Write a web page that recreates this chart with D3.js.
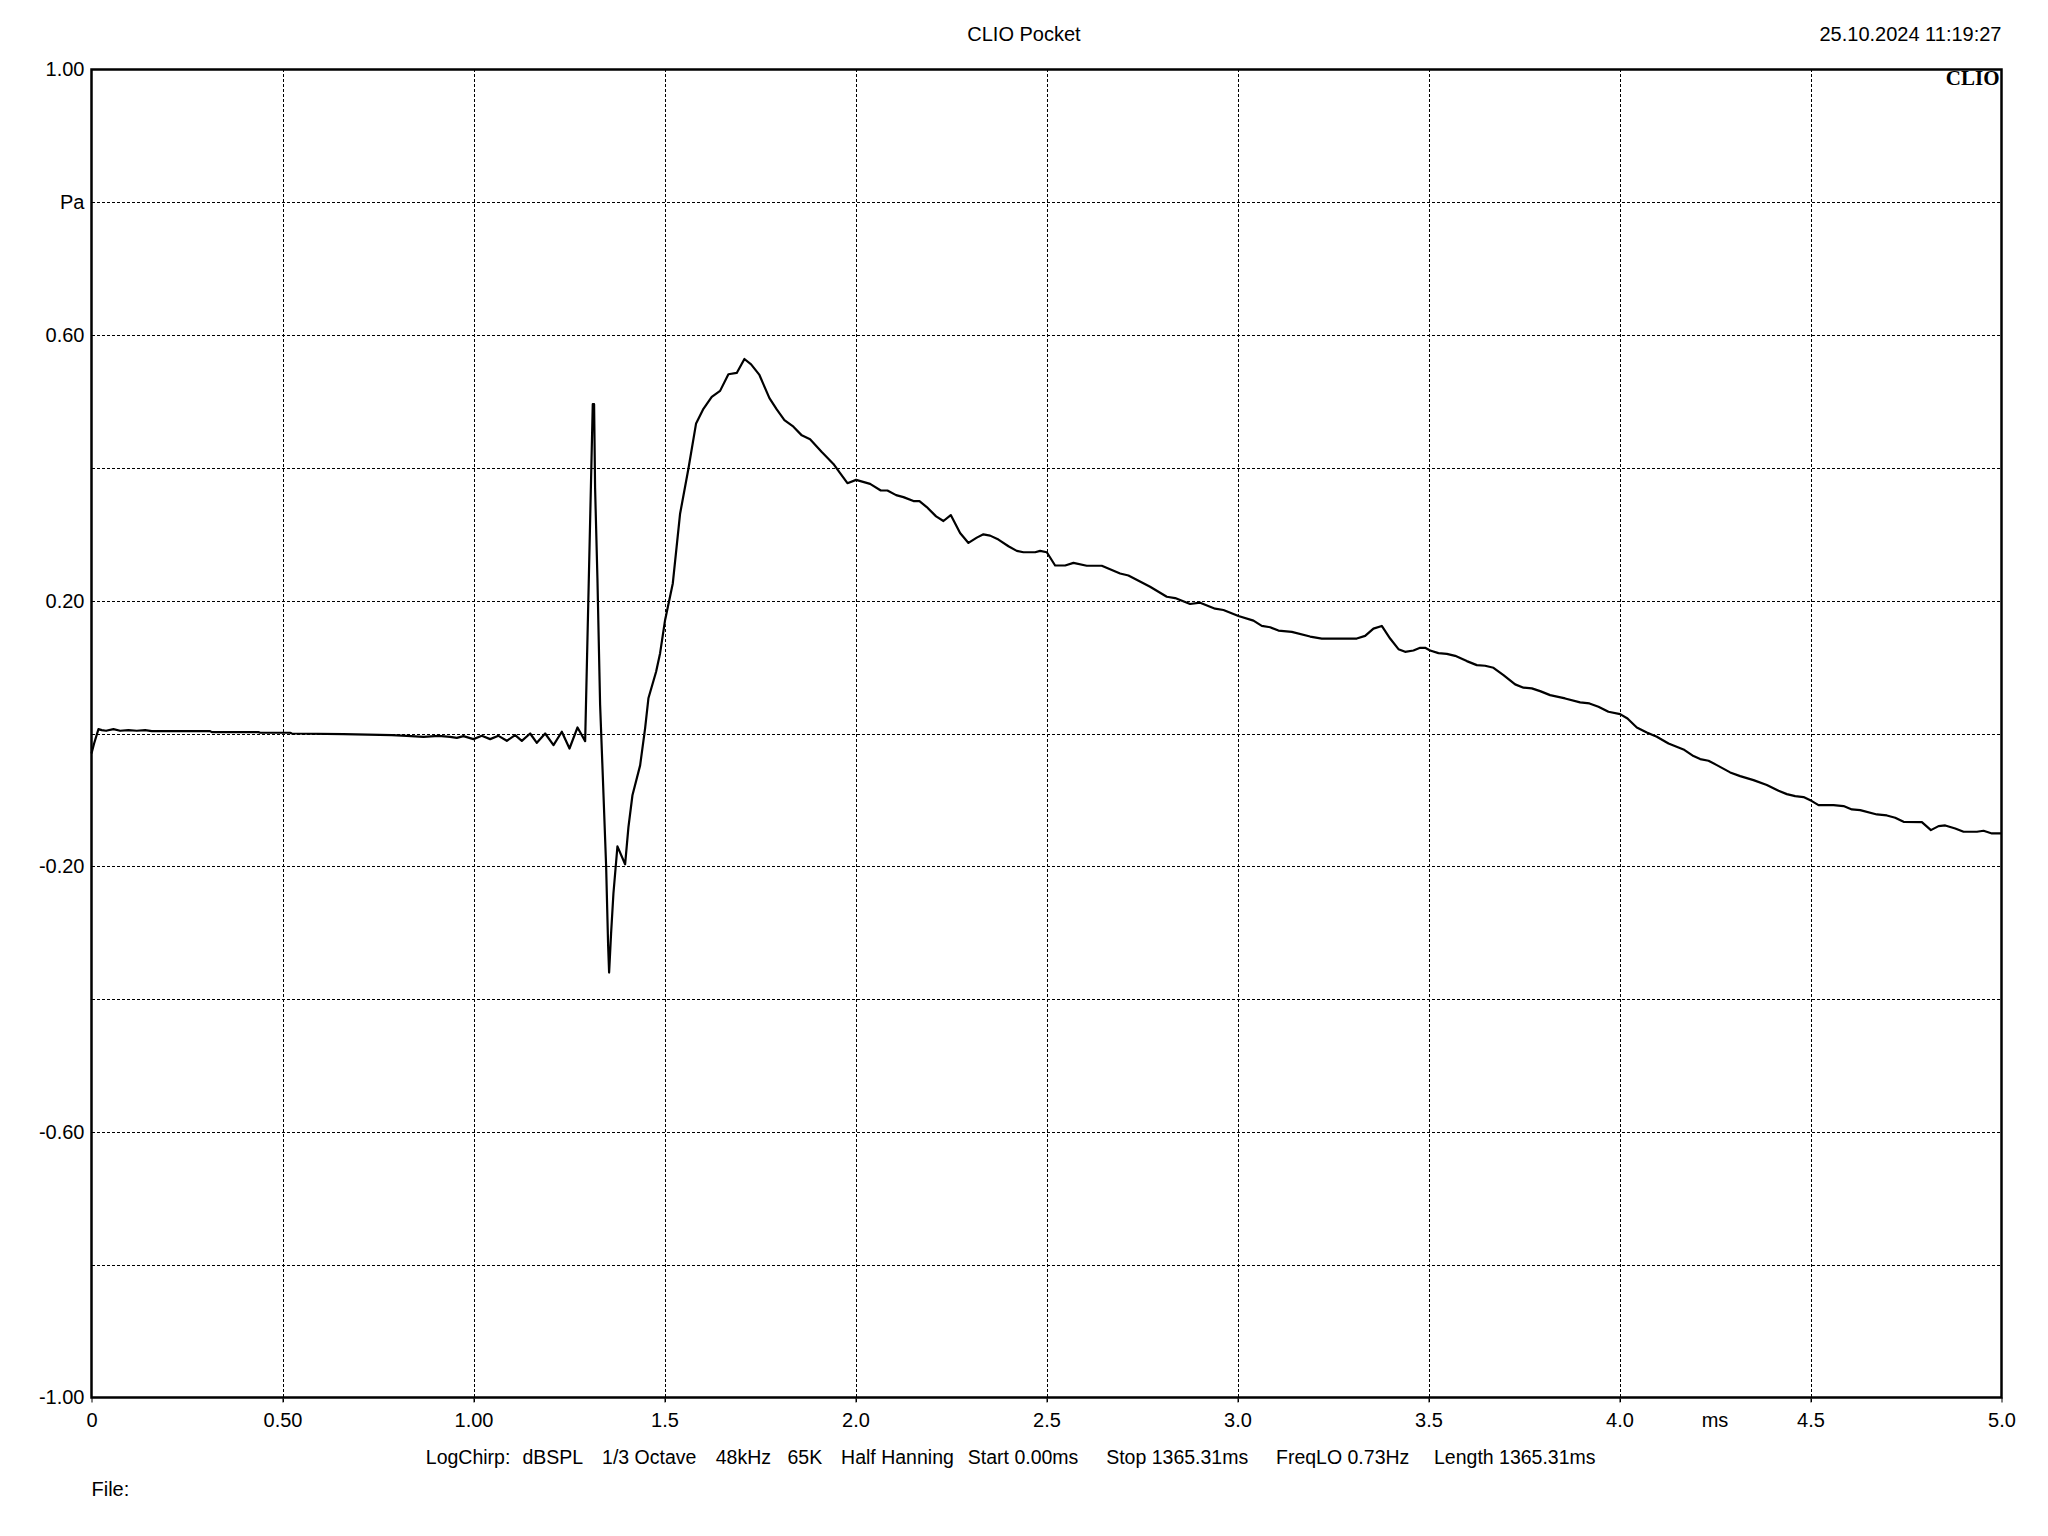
<!DOCTYPE html>
<html>
<head>
<meta charset="utf-8">
<script src="https://cdn.jsdelivr.net/npm/d3@7/dist/d3.min.js"></script>
<style>
  html, body { margin: 0; padding: 0; background: #fff; }
  svg { display: block; }
  text { font-family: "Liberation Sans", Arial, sans-serif; fill: #000; }
</style>
</head>
<body>
<svg id="chart" width="2048" height="1536"></svg>
<script>
// ---------- data ----------
const timeMs = [
  0, 0.0068, 0.0182, 0.0269, 0.0382, 0.0574, 0.0749, 0.0967, 0.1186, 0.1404, 0.1578,
  0.3105, 0.3149, 0.4370, 0.4414, 0.5200, 0.5244, 0.6596, 0.7862, 0.8255, 0.8691,
  0.9084, 0.9389, 0.9564, 0.9738, 0.9999, 1.0217, 1.0436, 1.0654, 1.0872, 1.1090,
  1.1265, 1.1483, 1.1658, 1.1876, 1.2094, 1.2312, 1.2513, 1.2723, 1.2923,
  1.3122, 1.3157, 1.3183, 1.3244, 1.3314, 1.3384, 1.3472, 1.3524, 1.3550, 1.3602,
  1.3663, 1.3768, 1.3969, 1.4056, 1.4161, 1.4362, 1.4493, 1.4579, 1.4780, 1.4885,
  1.5016, 1.5217, 1.5408, 1.5627, 1.5827, 1.6019, 1.6237, 1.6455, 1.6673, 1.6891,
  1.7092, 1.7267, 1.7485, 1.7747, 1.7938, 1.8139, 1.8375, 1.8593, 1.8811, 1.9117,
  1.9422, 1.9597, 1.9789, 2.0016, 2.0382, 2.0662, 2.0836, 2.1063, 2.1255, 2.1517,
  2.1674, 2.1866, 2.2110, 2.2302, 2.2494, 2.2738, 2.2957, 2.3175, 2.3349, 2.3524,
  2.3742, 2.4004, 2.4222, 2.4397, 2.4702, 2.4833, 2.5008, 2.5226, 2.5488, 2.5706,
  2.6054, 2.6447, 2.6927, 2.7145, 2.7712, 2.8149, 2.8367, 2.8759, 2.9021, 2.9414,
  2.9632, 3.0025, 3.0418, 3.0636, 3.0854, 3.1072, 3.1421, 3.1901, 3.2207, 3.3123,
  3.3341, 3.3559, 3.3777, 3.3995, 3.4214, 3.4388, 3.4606, 3.4781, 3.4912, 3.5043,
  3.5261, 3.5479, 3.5698, 3.6003, 3.6265, 3.6483, 3.6701, 3.6963, 3.7268, 3.7487,
  3.7705, 3.7922, 3.8183, 3.8576, 3.8969, 3.9213, 3.9449, 3.9711, 4.0016, 4.0209,
  4.0453, 4.0715, 4.0977, 4.1283, 4.1675, 4.1937, 4.2112, 4.2330, 4.2548, 4.2897,
  4.3159, 4.3508, 4.3857, 4.4163, 4.4381, 4.4599, 4.4817, 4.5036, 4.5210, 4.5603,
  4.5865, 4.6083, 4.6301, 4.6738, 4.6999, 4.7217, 4.7436, 4.7916, 4.8152, 4.8352,
  4.8527, 4.8789, 4.9007, 4.9356, 4.9530, 4.9749, 5.0
];
const pressurePa = [
  -0.030, -0.015, 0.0066, 0.0051, 0.0041, 0.0066, 0.0041, 0.0051, 0.0041, 0.0051, 0.0036,
  0.0036, 0.0021, 0.0021, 0.0011, 0.0011, 0.0, -0.001, -0.0025, -0.0035, -0.005,
  -0.0035, -0.005, -0.0065, -0.004, -0.0085, -0.0035, -0.0085, -0.0035, -0.011, -0.0025,
  -0.011, 0.0, -0.014, 0.0, -0.0175, 0.0026, -0.0226, 0.0091, -0.0115,
  0.496, 0.496, 0.370, 0.234, 0.044, -0.063, -0.200, -0.319, -0.360, -0.301,
  -0.241, -0.170, -0.197, -0.141, -0.093, -0.048, 0.008, 0.053, 0.093, 0.121,
  0.171, 0.226, 0.331, 0.399, 0.467, 0.489, 0.507, 0.516, 0.541, 0.543,
  0.564, 0.556, 0.540, 0.505, 0.488, 0.472, 0.462, 0.449, 0.443, 0.424,
  0.406, 0.392, 0.377, 0.382, 0.376, 0.366, 0.366, 0.359, 0.356, 0.350,
  0.350, 0.341, 0.327, 0.320, 0.329, 0.302, 0.287, 0.295, 0.300, 0.298,
  0.292, 0.282, 0.275, 0.273, 0.273, 0.275, 0.273, 0.253, 0.253, 0.257,
  0.2526, 0.2526, 0.241, 0.238, 0.221, 0.206, 0.204, 0.195, 0.197, 0.188,
  0.186, 0.177, 0.170, 0.162, 0.160, 0.155, 0.153, 0.146, 0.143, 0.143,
  0.147, 0.158, 0.162, 0.143, 0.127, 0.123, 0.125, 0.129, 0.129, 0.125,
  0.121, 0.120, 0.117, 0.109, 0.103, 0.102, 0.099, 0.088, 0.074, 0.069,
  0.068, 0.0638, 0.0578, 0.0528, 0.0468, 0.0453, 0.0403, 0.0327, 0.0292, 0.0227,
  0.0091, 0.0016, -0.0049, -0.0150, -0.0240, -0.0340, -0.0385, -0.0410, -0.0476, -0.0586,
  -0.0642, -0.0702, -0.0777, -0.0863, -0.0913, -0.0943, -0.0958, -0.1018, -0.1078, -0.1078,
  -0.1093, -0.1144, -0.1154, -0.1219, -0.1234, -0.1269, -0.1330, -0.1335, -0.1455, -0.1395,
  -0.1385, -0.1430, -0.1480, -0.1480, -0.1465, -0.1505, -0.1505
];

const xTickValues = [0, 0.5, 1.0, 1.5, 2.0, 2.5, 3.0, 3.5, 4.0, 4.5, 5.0];
const xTickLabels = ["0", "0.50", "1.00", "1.5", "2.0", "2.5", "3.0", "3.5", "4.0", "4.5", "5.0"];
const xUnitLabel = "ms";
const xUnitAt = 4.25;

const yTickValues = [1.0, 0.8, 0.6, 0.4, 0.2, 0.0, -0.2, -0.4, -0.6, -0.8, -1.0];
const yTickLabels = ["1.00", "Pa", "0.60", "", "0.20", "", "-0.20", "", "-0.60", "", "-1.00"];

const titleText = "CLIO Pocket";
const dateText = "25.10.2024 11:19:27";
const logoText = "CLIO";
const footerItems = ["LogChirp:", "dBSPL", "1/3 Octave", "48kHz", "65K", "Half Hanning",
                     "Start 0.00ms", "Stop 1365.31ms", "FreqLO 0.73Hz", "Length 1365.31ms"];
const fileLabel = "File:";

// ---------- layout ----------
const L = 91.5, R = 2001.5, T = 69.5, B = 1397.5;
const footerX = [425.8, 522.4, 602.1, 715.7, 787.5, 841.1, 967.8, 1106.2, 1276.0, 1434.0];

const svg = d3.select("#chart");
const x = d3.scaleLinear().domain([0, 5]).range([L, R]);
const y = d3.scaleLinear().domain([-1, 1]).range([B, T]);

// grid (dashed)
const gridX = svg.append("g").attr("transform", `translate(0,${B})`)
  .call(d3.axisBottom(x).tickValues(xTickValues.slice(1, -1)).tickSize(-(B - T)).tickFormat(""));
gridX.select(".domain").remove();
gridX.selectAll("line").attr("stroke", "#000").attr("stroke-width", 1).attr("stroke-dasharray", "3,2")
  .attr("shape-rendering", "crispEdges").attr("y1", 4);

const gridY = svg.append("g").attr("transform", `translate(${L},0)`)
  .call(d3.axisLeft(y).tickValues(yTickValues.slice(1, -1)).tickSize(-(R - L)).tickFormat(""));
gridY.select(".domain").remove();
gridY.selectAll("line").attr("stroke", "#000").attr("stroke-width", 1).attr("stroke-dasharray", "3,2")
  .attr("shape-rendering", "crispEdges");

// x axis labels
const xAxis = svg.append("g").attr("transform", `translate(0,${B})`)
  .call(d3.axisBottom(x).tickValues(xTickValues).tickSize(5).tickPadding(10)
    .tickFormat((d, i) => xTickLabels[i]));
xAxis.select(".domain").remove();
xAxis.selectAll("line").attr("stroke", "#000").attr("stroke-width", 1);
xAxis.selectAll("text").attr("font-size", 20).attr("font-family", "Liberation Sans, Arial, sans-serif")
  .attr("fill", "#000").attr("dy", "0.71em");

svg.append("text").attr("x", x(xUnitAt)).attr("y", B + 15).attr("dy", "0.71em")
  .attr("text-anchor", "middle").attr("font-size", 20).text(xUnitLabel);

// y axis labels
const yAxis = svg.append("g").attr("transform", `translate(${L},0)`)
  .call(d3.axisLeft(y).tickValues(yTickValues).tickSize(0).tickPadding(7)
    .tickFormat((d, i) => yTickLabels[i]));
yAxis.select(".domain").remove();
yAxis.selectAll("text").attr("font-size", 20).attr("font-family", "Liberation Sans, Arial, sans-serif")
  .attr("fill", "#000");

// curve
const pts = timeMs.map((t, i) => [t, pressurePa[i]]);
svg.append("path")
  .datum(pts)
  .attr("fill", "none")
  .attr("stroke", "#000")
  .attr("stroke-width", 2.2)
  .attr("stroke-linejoin", "round")
  .attr("d", d3.line().x(d => x(d[0])).y(d => y(d[1])));

// frame
svg.append("rect").attr("x", L).attr("y", T).attr("width", R - L).attr("height", B - T)
  .attr("fill", "none").attr("stroke", "#000").attr("stroke-width", 2.5);

// header
svg.append("text").attr("x", 1024).attr("y", 41).attr("text-anchor", "middle")
  .attr("font-size", 20).text(titleText);
svg.append("text").attr("x", R).attr("y", 41).attr("text-anchor", "end")
  .attr("font-size", 20).text(dateText);
svg.append("text").attr("x", R - 2).attr("y", 85).attr("text-anchor", "end")
  .style("font-family", "'Liberation Serif', 'DejaVu Serif', serif").attr("font-weight", "bold")
  .attr("font-size", 21).text(logoText);

// footer
svg.append("g").selectAll("text").data(footerItems).join("text")
  .attr("x", (d, i) => footerX[i]).attr("y", 1464).attr("font-size", 19.5).text(d => d);
svg.append("text").attr("x", L).attr("y", 1496).attr("font-size", 20).text(fileLabel);
</script>
</body>
</html>
